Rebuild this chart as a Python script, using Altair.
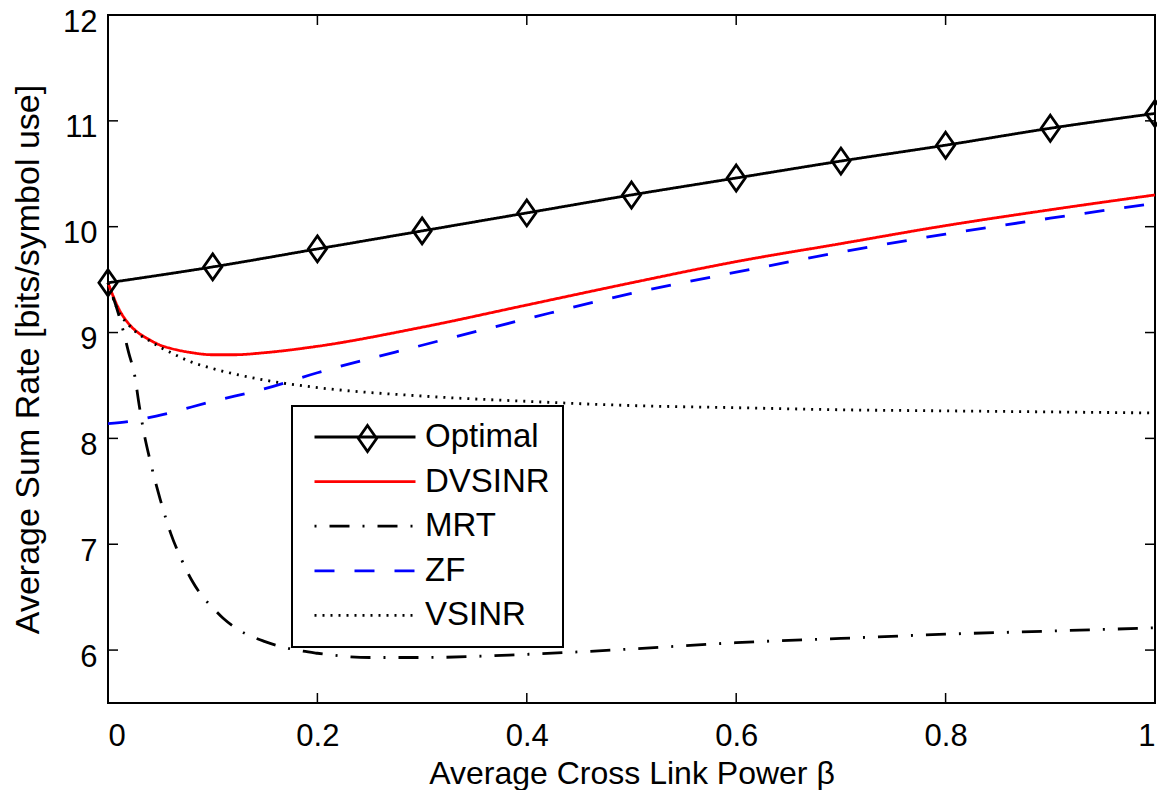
import altair as alt
import pandas as pd

# ---------------- data ----------------
series_names = ["Optimal", "DVSINR", "MRT", "ZF", "VSINR"]
series_colors = ["#000000", "#ff0000", "#000000", "#0000ff", "#000000"]
series_dashes = [[1, 0], [1, 0], [2, 13, 20, 13], [20, 20], [2, 6]]

beta_opt = [0.0, 0.1, 0.2, 0.3, 0.4, 0.5, 0.6, 0.7, 0.8, 0.9, 1.0]
rate_opt = [9.47, 9.62, 9.79, 9.96, 10.13, 10.30, 10.46, 10.62, 10.77, 10.93, 11.07]

beta_dv = [0.0, 0.01, 0.02, 0.03, 0.04, 0.05, 0.06, 0.08, 0.1, 0.12, 0.15, 0.2,
           0.3, 0.4, 0.5, 0.6, 0.7, 0.8, 0.9, 1.0]
rate_dv = [9.47, 9.23, 9.08, 8.99, 8.93, 8.88, 8.85, 8.81, 8.79, 8.79, 8.81, 8.87,
           9.05, 9.26, 9.47, 9.67, 9.84, 10.01, 10.16, 10.30]

beta_mrt = [0.0, 0.008, 0.015, 0.02, 0.025, 0.03, 0.035, 0.04, 0.045, 0.05, 0.06,
            0.07, 0.08, 0.09, 0.1, 0.11, 0.125, 0.15, 0.175, 0.2, 0.25, 0.3, 0.4,
            0.5, 0.6, 0.7, 0.8, 0.9, 1.0]
rate_mrt = [9.47, 9.24, 9.00, 8.80, 8.62, 8.30, 8.02, 7.80, 7.60, 7.42, 7.10,
            6.86, 6.66, 6.51, 6.40, 6.30, 6.19, 6.08, 6.01, 5.97, 5.93, 5.93, 5.96,
            6.01, 6.07, 6.11, 6.15, 6.18, 6.21]

beta_zf = [0.0, 0.02, 0.05, 0.1, 0.15, 0.2, 0.3, 0.4, 0.5, 0.6, 0.7, 0.8, 0.9, 1.0]
rate_zf = [8.14, 8.16, 8.22, 8.35, 8.47, 8.62, 8.88, 9.13, 9.37, 9.57, 9.76, 9.93, 10.08, 10.22]

beta_vs = [0.0, 0.01, 0.02, 0.03, 0.04, 0.05, 0.06, 0.08, 0.1, 0.12, 0.15, 0.2,
           0.3, 0.4, 0.5, 0.6, 0.7, 0.8, 0.9, 1.0]
rate_vs = [9.47, 9.20, 9.07, 8.98, 8.92, 8.86, 8.81, 8.72, 8.66, 8.61, 8.55, 8.48,
           8.40, 8.35, 8.31, 8.29, 8.27, 8.26, 8.25, 8.24]

x_ticks = [0, 0.2, 0.4, 0.6, 0.8, 1.0]
y_ticks = [6, 7, 8, 9, 10, 11, 12]

# ---------------- tables ----------------
rows = []
for name, xs_, ys_ in [("Optimal", beta_opt, rate_opt), ("DVSINR", beta_dv, rate_dv),
                       ("MRT", beta_mrt, rate_mrt), ("ZF", beta_zf, rate_zf),
                       ("VSINR", beta_vs, rate_vs)]:
    for a, b in zip(xs_, ys_):
        rows.append({"beta": a, "rate": b, "series": name})
df = pd.DataFrame(rows)
df_opt = pd.DataFrame({"beta": beta_opt, "rate": rate_opt, "series": ["Optimal"] * len(beta_opt)})
df_xt = pd.DataFrame({"beta": x_ticks})
df_yt = pd.DataFrame({"rate": y_ticks})

# ---------------- layout ----------------
W, H = 1047, 688
TICK = 10
FONT = "Liberation Sans"
LW = 2.8

xscale = alt.Scale(domain=[0, 1], nice=False, zero=False)
yscale = alt.Scale(domain=[5.5, 12], nice=False, zero=False)

x_axis = alt.Axis(values=x_ticks, format="~g", title="Average Cross Link Power β",
                  labelPadding=18, labelFontSize=31, titleFontSize=32,
                  titleBaseline="alphabetic", titleY=80,
                  ticks=False, domain=False, grid=False)
y_axis = alt.Axis(values=y_ticks, format="d", title="Average Sum Rate [bits/symbol use]",
                  labelPadding=11, labelOffset=7, labelFontSize=31, titleFontSize=34,
                  titleBaseline="alphabetic", titleX=-70,
                  ticks=False, domain=False, grid=False)

X = alt.X("beta:Q", scale=xscale, axis=x_axis)
Y = alt.Y("rate:Q", scale=yscale, axis=y_axis)

diamond_path = "M0,-1L0.7,0L0,1L-0.7,0Z"

leg = alt.Legend(
    title=None, orient="none", legendX=184, legendY=391,
    symbolType="stroke", symbolSize=10201, symbolStrokeWidth=LW,
    symbolOffset=8, labelOffset=8,
    labelFont=FONT, labelFontSize=33, labelColor="black",
    padding=13, clipHeight=36, rowPadding=8.6,
    fillColor="white", strokeColor="black", zindex=1,
)

# diamond overlay for the "Optimal" legend entry
leg_marker = alt.Legend(
    title=None, orient="none", legendX=245, legendY=409,
    symbolSize=676, symbolFillColor="white", symbolStrokeColor="black",
    symbolStrokeWidth=LW, symbolOpacity=1, labelOpacity=0, labelFontSize=1,
    padding=0, zindex=2,
)

lines = alt.Chart(df).mark_line(strokeWidth=LW, interpolate="monotone").encode(
    x=X, y=Y,
    color=alt.Color("series:N", scale=alt.Scale(domain=series_names, range=series_colors), legend=leg),
    strokeDash=alt.StrokeDash("series:N", scale=alt.Scale(domain=series_names, range=series_dashes), legend=leg),
)

points = alt.Chart(df_opt).mark_point(size=676, filled=False, color="black",
                                       strokeWidth=LW, opacity=1).encode(
    x=X, y=Y,
    shape=alt.Shape("series:N", scale=alt.Scale(domain=["Optimal"], range=[diamond_path]),
                    legend=leg_marker),
)

tick_style = dict(color="black", strokeWidth=1.5)
left_ticks = alt.Chart(df_yt).mark_rule(**tick_style).encode(
    y=Y, x=alt.value(0), x2=alt.value(TICK))
right_ticks = alt.Chart(df_yt).mark_rule(**tick_style).encode(
    y=Y, x=alt.value(W), x2=alt.value(W - TICK))
bottom_ticks = alt.Chart(df_xt).mark_rule(**tick_style).encode(
    x=X, y=alt.value(H), y2=alt.value(H - TICK))
top_ticks = alt.Chart(df_xt).mark_rule(**tick_style).encode(
    x=X, y=alt.value(0), y2=alt.value(TICK))

chart = alt.layer(lines, points, left_ticks, right_ticks, bottom_ticks, top_ticks).properties(
    width=W, height=H,
    autosize=alt.AutoSizeParams(type="none"),
    padding={"left": 100, "top": 7, "right": 2, "bottom": 87},
).configure_view(
    stroke="black", strokeWidth=2
).configure_axis(
    labelFont=FONT, labelColor="black",
    titleFont=FONT, titleColor="black", titleFontWeight="normal",
).configure_legend(
    strokeWidth=2
)

chart.save("out.html", embed_options={"renderer": "svg", "actions": False})
